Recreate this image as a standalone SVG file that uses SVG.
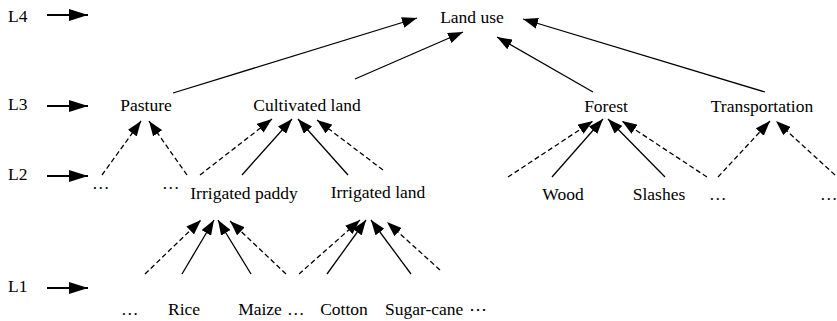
<svg xmlns="http://www.w3.org/2000/svg" width="837" height="321" viewBox="0 0 837 321">
<style>
text{font-family:"Liberation Serif","Times New Roman",serif;font-size:17.5px;fill:#000}
.m{text-anchor:middle}
.c{stroke:#000;stroke-width:1.3;fill:none;marker-end:url(#ah)}
.d{stroke-dasharray:5,3}
.lv{stroke:#000;stroke-width:2.2;fill:none;marker-end:url(#lh)}
</style>
<defs>
<marker id="ah" markerUnits="userSpaceOnUse" markerWidth="15" markerHeight="11" refX="15" refY="5.5" orient="auto"><path d="M0,0 L15,5.5 L0,11 z" fill="#000"/></marker>
<marker id="lh" markerUnits="userSpaceOnUse" markerWidth="19" markerHeight="12" refX="19" refY="6" orient="auto"><path d="M0,0 L19,6 L0,12 z" fill="#000"/></marker>
</defs>
<rect width="837" height="321" fill="#fff"/>
<g id="levels">
<text x="8" y="22">L4</text><line class="lv" x1="47" y1="15" x2="88" y2="15"/>
<text x="8" y="110">L3</text><line class="lv" x1="47" y1="106" x2="88" y2="106"/>
<text x="8" y="180">L2</text><line class="lv" x1="47" y1="176" x2="88" y2="176"/>
<text x="8" y="292">L1</text><line class="lv" x1="47" y1="288" x2="88" y2="288"/>
</g>
<g id="n-landuse"><text class="m" x="472" y="23">Land use</text></g>
<g id="n-pasture"><text class="m" x="146" y="111">Pasture</text></g>
<g id="n-cultivated"><text class="m" x="307" y="111">Cultivated land</text></g>
<g id="n-forest"><text class="m" x="606" y="112">Forest</text></g>
<g id="n-transport"><text class="m" x="762" y="112">Transportation</text></g>
<g id="n-dots2a"><text x="92" y="189">…</text></g>
<g id="n-dots2b"><text x="162" y="189">…</text></g>
<g id="n-paddy"><text class="m" x="244" y="199">Irrigated paddy</text></g>
<g id="n-irrland"><text class="m" x="378" y="198">Irrigated land</text></g>
<g id="n-wood"><text class="m" x="563" y="200">Wood</text></g>
<g id="n-slashes"><text class="m" x="659" y="200">Slashes</text></g>
<g id="n-dots2c"><text x="709" y="200">…</text></g>
<g id="n-dots2d"><text x="820" y="200">…</text></g>
<g id="n-dots1a"><text x="121" y="315">…</text></g>
<g id="n-rice"><text class="m" x="184" y="315">Rice</text></g>
<g id="n-maize"><text class="m" x="260" y="315">Maize</text></g>
<g id="n-dots1b"><text x="287" y="315">…</text></g>
<g id="n-cotton"><text class="m" x="344" y="315">Cotton</text></g>
<g id="n-sugarcane"><text x="385" y="315">Sugar-cane</text></g>
<g id="n-dots1c"><text x="469" y="315" font-family="DejaVu Serif, serif" font-size="13">⋯</text></g>
<g id="connectors">
<line class="c" x1="173" y1="93" x2="417" y2="18"/>
<line class="c" x1="355" y1="79" x2="463" y2="32"/>
<line class="c" x1="593" y1="92" x2="497" y2="37"/>
<line class="c" x1="765" y1="92" x2="523" y2="19"/>
<line class="c d" x1="102" y1="175" x2="141" y2="121"/>
<line class="c d" x1="187" y1="175" x2="149" y2="121"/>
<line class="c d" x1="200" y1="175" x2="272" y2="119"/>
<line class="c" x1="242" y1="175" x2="292" y2="119"/>
<line class="c" x1="348" y1="175" x2="298" y2="119"/>
<line class="c d" x1="383" y1="170" x2="317" y2="120"/>
<line class="c d" x1="145" y1="274" x2="201" y2="220"/>
<line class="c" x1="182" y1="274" x2="214" y2="220"/>
<line class="c" x1="251" y1="274" x2="218" y2="220"/>
<line class="c d" x1="286" y1="274" x2="230" y2="221"/>
<line class="c d" x1="299" y1="274" x2="360" y2="220"/>
<line class="c" x1="327" y1="274" x2="366" y2="220"/>
<line class="c" x1="411" y1="274" x2="371" y2="220"/>
<line class="c d" x1="440" y1="270" x2="387" y2="222"/>
<line class="c d" x1="508" y1="177" x2="593" y2="121"/>
<line class="c" x1="552" y1="177" x2="603" y2="119"/>
<line class="c" x1="665" y1="177" x2="608" y2="119"/>
<line class="c d" x1="707" y1="177" x2="622" y2="121"/>
<line class="c d" x1="718" y1="177" x2="770" y2="121"/>
<line class="c d" x1="835" y1="175" x2="776" y2="121"/>
</g>
</svg>
